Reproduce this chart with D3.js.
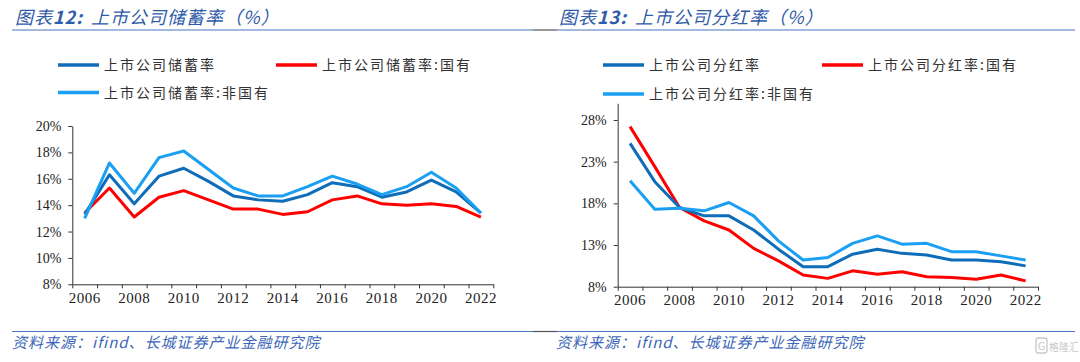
<!DOCTYPE html>
<html>
<head>
<meta charset="utf-8">
<script src="https://cdn.jsdelivr.net/npm/d3@7"></script>
<style>
  html, body { margin: 0; padding: 0; background: #fff; }
  svg { display: block; }
  .title { font-family: "Noto Sans CJK SC", sans-serif; font-style: italic; font-size: 18px; fill: #2f5aa8; letter-spacing: 1px; }
  .legend text { font-family: "Noto Sans CJK SC", sans-serif; font-size: 14px; fill: #333; letter-spacing: 2px; }
  .axis text { font-family: "Liberation Serif", serif; fill: #222; }
  .axis path, .axis line { stroke: #333; }
  .source { font-family: "Noto Sans CJK SC", sans-serif; font-style: italic; font-size: 15px; fill: #3d66b8; letter-spacing: 1px; }
</style>
</head>
<body>
<svg id="chart" width="1080" height="362"></svg>
<script>
// years shared by both charts
const years = d3.range(2006, 2023)
const yearLabels = [2006, 2008, 2010, 2012, 2014, 2016, 2018, 2020, 2022]

// chart 12: savings rate (%)
const savingAll = [13.3, 16.3, 14.1, 16.2, 16.8, 15.8, 14.7, 14.4, 14.3, 14.8, 15.7, 15.4, 14.6, 15.0, 15.9, 15.0, 13.4]
const savingSoe = [13.4, 15.3, 13.1, 14.6, 15.1, 14.4, 13.7, 13.7, 13.3, 13.5, 14.4, 14.7, 14.1, 14.0, 14.1, 13.9, 13.1]
const savingPrivate = [13.0, 17.2, 14.9, 17.6, 18.1, 16.7, 15.3, 14.7, 14.7, 15.4, 16.2, 15.6, 14.8, 15.4, 16.5, 15.3, 13.4]
const savingTicks = [8, 10, 12, 14, 16, 18, 20]

// chart 13: dividend payout rate (%)
const payoutAll = [25.2, 20.6, 17.5, 16.5, 16.5, 14.8, 12.5, 10.4, 10.4, 11.9, 12.5, 12.0, 11.8, 11.2, 11.2, 11.0, 10.5]
const payoutSoe = [27.2, 22.4, 17.5, 15.9, 14.8, 12.6, 11.1, 9.4, 9.0, 9.9, 9.5, 9.8, 9.2, 9.1, 8.9, 9.4, 8.7]
const payoutPrivate = [20.7, 17.3, 17.4, 17.1, 18.1, 16.5, 13.5, 11.2, 11.5, 13.2, 14.1, 13.1, 13.2, 12.2, 12.2, 11.7, 11.2]
const payoutTicks = [8, 13, 18, 23, 28]

const colors = ['#0f6cb8', '#ff0000', '#1a9ff2']

const svg = d3.select('#chart')

function drawPanel(opt) {
  const g = svg.append('g')

  // title and rule under it
  const title = g.append('text').attr('class', 'title')
    .attr('x', opt.titleX).attr('y', 24)
  title.append('tspan').text('图表')
  title.append('tspan').attr('font-weight', 'bold').text(opt.num + ':')
  title.append('tspan').attr('dx', 8).text(opt.title)
  g.append('line')
    .attr('x1', opt.ruleX[0]).attr('x2', opt.ruleX[1])
    .attr('y1', 30).attr('y2', 30)
    .attr('stroke', '#4a74c0').attr('stroke-width', 1.2)

  // legend
  const leg = g.append('g').attr('class', 'legend')
  opt.legend.forEach((item, i) => {
    leg.append('line')
      .attr('x1', item.x).attr('x2', item.x + 41)
      .attr('y1', item.y).attr('y2', item.y)
      .attr('stroke', colors[i]).attr('stroke-width', 3.5)
    leg.append('text')
      .attr('x', item.x + 46).attr('y', item.y + 5)
      .text(item.label)
  })

  // scales
  const x = d3.scaleBand().domain(years).range(opt.xRange)
  const xEdge = d3.scaleLinear().domain([0, years.length]).range(opt.xRange)
  const y = d3.scaleLinear().domain(opt.yDomain).range(opt.yRange)

  // y axis
  g.append('g').attr('class', 'axis')
    .attr('transform', `translate(${opt.xRange[0]},0)`)
    .call(d3.axisLeft(y).tickValues(opt.yTicks).tickSize(4).tickSizeOuter(0).tickPadding(7)
      .tickFormat(d => d + '%'))
    .selectAll('text').style('font-size', '14px')

  // x axis: tick marks between years, labels on every other year
  g.append('g').attr('class', 'axis')
    .attr('transform', `translate(0,${opt.yRange[0]})`)
    .call(d3.axisBottom(xEdge).tickValues(d3.range(years.length + 1)).tickSize(4).tickSizeOuter(0)
      .tickFormat(''))
  const xl = g.append('g').attr('class', 'axis')
    .attr('transform', `translate(0,${opt.yRange[0]})`)
    .call(d3.axisBottom(x).tickValues(yearLabels).tickSize(0).tickPadding(8))
  xl.select('.domain').remove()
  xl.selectAll('text').style('font-size', '15px').attr('letter-spacing', '0.5px')

  // lines
  const line = d3.line()
    .x((d, i) => x(years[i]) + x.bandwidth() / 2)
    .y(d => y(d))
  const order = [1, 0, 2]
  order.forEach(k => {
    g.append('path')
      .datum(opt.series[k])
      .attr('fill', 'none')
      .attr('stroke', colors[k])
      .attr('stroke-width', 3)
      .attr('stroke-linejoin', 'round')
      .attr('d', line)
  })

  // source note
  g.append('line')
    .attr('x1', opt.ruleX[0]).attr('x2', opt.ruleX[1])
    .attr('y1', 331.5).attr('y2', 331.5)
    .attr('stroke', '#4a74c0').attr('stroke-width', 1.2)
  g.append('text').attr('class', 'source')
    .attr('x', opt.titleX - 3).attr('y', 348)
    .text('资料来源：ifind、长城证券产业金融研究院')
}

drawPanel({
  titleX: 15, ruleX: [12, 533], num: '12', title: '上市公司储蓄率（%）',
  legend: [
    { x: 58, y: 65, label: '上市公司储蓄率' },
    { x: 276, y: 65, label: '上市公司储蓄率:国有' },
    { x: 58, y: 92.5, label: '上市公司储蓄率:非国有' }
  ],
  xRange: [72.3, 493.3], yRange: [284.3, 126], yDomain: [8, 20], yTicks: savingTicks,
  series: [savingAll, savingSoe, savingPrivate]
})

drawPanel({
  titleX: 559, ruleX: [557, 1075], num: '13', title: '上市公司分红率（%）',
  legend: [
    { x: 603, y: 65, label: '上市公司分红率' },
    { x: 822, y: 65, label: '上市公司分红率:国有' },
    { x: 603, y: 94, label: '上市公司分红率:非国有' }
  ],
  xRange: [617.7, 1038], yRange: [286.7, 103.3], yDomain: [8, 30], yTicks: payoutTicks,
  series: [payoutAll, payoutSoe, payoutPrivate]
})

// small dark joins between the two rules
svg.append('line').attr('x1', 533).attr('x2', 557).attr('y1', 30).attr('y2', 30)
  .attr('stroke', '#555').attr('stroke-width', 1.2)
svg.append('line').attr('x1', 533).attr('x2', 557).attr('y1', 331.5).attr('y2', 331.5)
  .attr('stroke', '#555').attr('stroke-width', 1.2)

// watermark in the bottom-right corner
const wm = svg.append('g').attr('opacity', 0.45)
wm.append('rect').attr('x', 1036).attr('y', 338).attr('width', 11).attr('height', 15)
  .attr('rx', 2.5).attr('fill', 'none').attr('stroke', '#888').attr('stroke-width', 1.3)
wm.append('text').attr('x', 1041.5).attr('y', 349.5).attr('text-anchor', 'middle')
  .attr('font-family', 'DejaVu Sans').attr('font-size', 10).attr('fill', '#888').text('G')
wm.append('text').attr('x', 1049).attr('y', 351)
  .attr('font-family', 'Noto Sans CJK SC').attr('font-size', 10).attr('fill', '#888').text('格隆汇')
</script>
</body>
</html>
